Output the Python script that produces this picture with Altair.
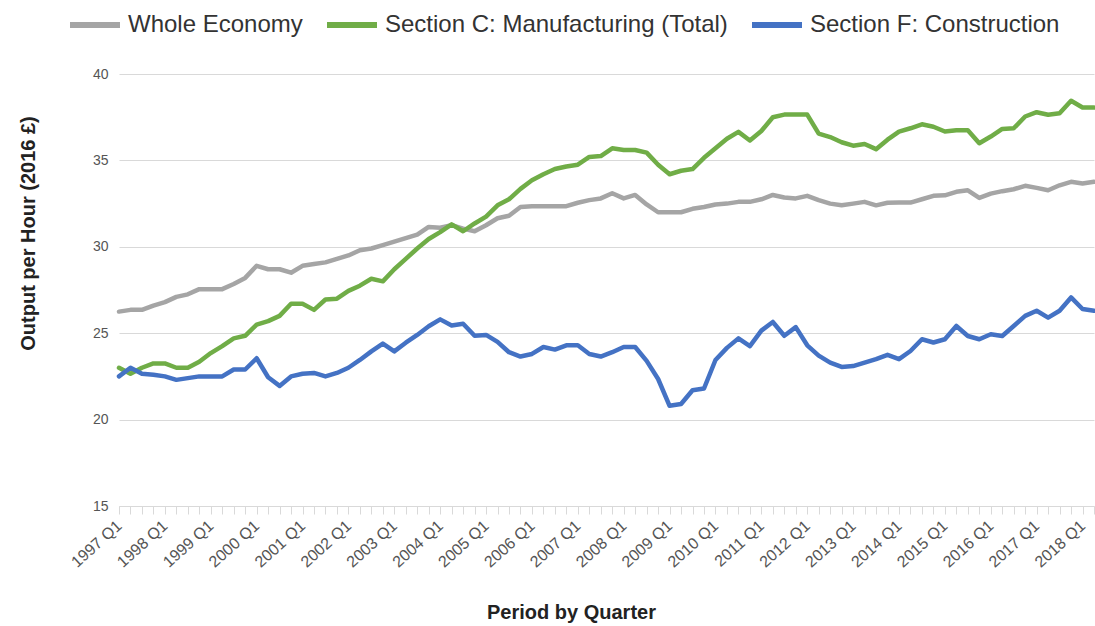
import altair as alt
import pandas as pd

# Quarter categories 1997 Q1 .. 2018 Q2
quarters = [f"{y} Q{q}" for y in range(1997, 2019) for q in range(1, 5)][:86]

series_names = ["Whole Economy", "Section C: Manufacturing (Total)", "Section F: Construction"]
series_colors = ["#A5A5A5", "#70AD47", "#4472C4"]

whole_economy = [
    26.25, 26.35, 26.35, 26.6, 26.8, 27.1, 27.25, 27.55, 27.55, 27.55,
    27.85, 28.2, 28.9, 28.7, 28.7, 28.5, 28.9, 29.0, 29.1, 29.3,
    29.5, 29.8, 29.9, 30.1, 30.3, 30.5, 30.7, 31.15, 31.1, 31.25,
    31.05, 30.9, 31.25, 31.65, 31.8, 32.3, 32.35, 32.35, 32.35, 32.35,
    32.55, 32.7, 32.8, 33.1, 32.8, 33.0, 32.45, 32.0, 32.0, 32.0,
    32.2, 32.3, 32.45, 32.5, 32.6, 32.6, 32.75, 33.0, 32.85, 32.8,
    32.95, 32.7, 32.5, 32.4, 32.5, 32.6, 32.4, 32.55, 32.56, 32.56,
    32.75, 32.95, 32.98, 33.18, 33.27, 32.83, 33.08, 33.22, 33.33, 33.53,
    33.41, 33.27, 33.56, 33.76, 33.66, 33.76,
]

manufacturing = [
    23.0, 22.65, 23.0, 23.25, 23.25, 23.0, 23.0, 23.35, 23.85, 24.25,
    24.7, 24.85, 25.5, 25.7, 26.0, 26.7, 26.7, 26.35, 26.95, 27.0,
    27.45, 27.75, 28.15, 28.0, 28.7, 29.3, 29.9, 30.45, 30.85, 31.3,
    30.9, 31.35, 31.75, 32.4, 32.75, 33.35, 33.85, 34.2, 34.5, 34.65,
    34.75, 35.2, 35.25, 35.7, 35.6, 35.6, 35.45, 34.75, 34.2, 34.4,
    34.5, 35.15, 35.7, 36.25, 36.65, 36.15, 36.7, 37.5, 37.65, 37.65,
    37.65, 36.55, 36.35, 36.05, 35.85, 35.95, 35.65, 36.2, 36.67, 36.86,
    37.09, 36.95, 36.67, 36.74, 36.74, 35.99, 36.38, 36.82, 36.86, 37.54,
    37.79, 37.64, 37.73, 38.45, 38.06, 38.06,
]

construction = [
    22.5, 23.0, 22.65, 22.6, 22.5, 22.3, 22.4, 22.5, 22.5, 22.5,
    22.9, 22.9, 23.55, 22.45, 21.95, 22.5, 22.65, 22.7, 22.5, 22.7,
    23.0, 23.45, 23.95, 24.4, 23.95, 24.45, 24.9, 25.4, 25.8, 25.45,
    25.55, 24.85, 24.9, 24.5, 23.9, 23.65, 23.8, 24.2, 24.05, 24.3,
    24.3, 23.8, 23.65, 23.9, 24.2, 24.2, 23.4, 22.35, 20.8, 20.9,
    21.7, 21.8, 23.45, 24.15, 24.7, 24.25, 25.15, 25.65, 24.85, 25.35,
    24.3, 23.7, 23.3, 23.05, 23.1, 23.3, 23.5, 23.75, 23.5, 23.97,
    24.65, 24.46, 24.65, 25.42, 24.84, 24.65, 24.94, 24.84, 25.42, 26.0,
    26.3, 25.9, 26.3, 27.07, 26.4, 26.3,
]

y_ticks = [15, 20, 25, 30, 35, 40]

rows = []
for name, vals in zip(series_names, [whole_economy, manufacturing, construction]):
    for q, v in zip(quarters, vals):
        rows.append({"Quarter": q, "Series": name, "Value": v})
df = pd.DataFrame(rows)

FONT = "Liberation Sans"

chart = alt.Chart(df).mark_line(
    strokeWidth=4.5, strokeJoin="round", strokeCap="round"
).encode(
    x=alt.X(
        "Quarter:O",
        sort=quarters,
        scale=alt.Scale(type="point", padding=0),
        axis=alt.Axis(
            title="Period by Quarter",
            titleFont=FONT,
            titleFontSize=20,
            titleFontWeight="bold",
            titleColor="#222222",
            titleX=452,
            titleY=106,
            titleAlign="center",
            titleBaseline="middle",
            labelExpr="indexof(datum.label, 'Q1') >= 0 ? datum.label : ''",
            labelAngle=-42,
            labelAlign="right",
            labelBaseline="middle",
            labelFont=FONT,
            labelFontSize=16,
            labelColor="#555555",
            labelPadding=9,
            labelOverlap=False,
            domainColor="#d9d9d9",
            tickColor="#d9d9d9",
            tickSize=8,
            grid=False,
        ),
    ),
    y=alt.Y(
        "Value:Q",
        scale=alt.Scale(domain=[15, 40], nice=False, zero=False),
        axis=alt.Axis(
            values=y_ticks,
            title="Output per Hour (2016 £)",
            titleFont=FONT,
            titleFontSize=20,
            titleFontWeight="bold",
            titleColor="#222222",
            titleX=-91,
            titleY=159,
            titleAngle=270,
            titleAlign="center",
            titleBaseline="middle",
            labelFont=FONT,
            labelFontSize=14,
            labelColor="#555555",
            labelPadding=11,
            ticks=False,
            tickSize=0,
            domain=False,
            gridColor="#d9d9d9",
            gridWidth=1,
        ),
    ),
    color=alt.Color(
        "Series:N",
        sort=series_names,
        scale=alt.Scale(domain=series_names, range=series_colors),
        legend=alt.Legend(
            title=None,
            orient="none",
            legendX=-52,
            legendY=-77,
            direction="horizontal",
            symbolType="stroke",
            symbolSize=2500,
            symbolStrokeWidth=6,
            labelFont=FONT,
            labelFontSize=24,
            labelColor="#333333",
            labelOffset=5,
            columnPadding=12,
            labelLimit=500,
        ),
    ),
    detail="Series:N",
).properties(
    width=975,
    height=432,
    autosize=alt.AutoSizeParams(type="none"),
    padding={"left": 119, "top": 74, "right": 1, "bottom": 120},
).configure(background="white").configure_view(stroke=None, strokeWidth=0)

chart.save("out.html", embed_options={"renderer": "svg", "actions": False})
